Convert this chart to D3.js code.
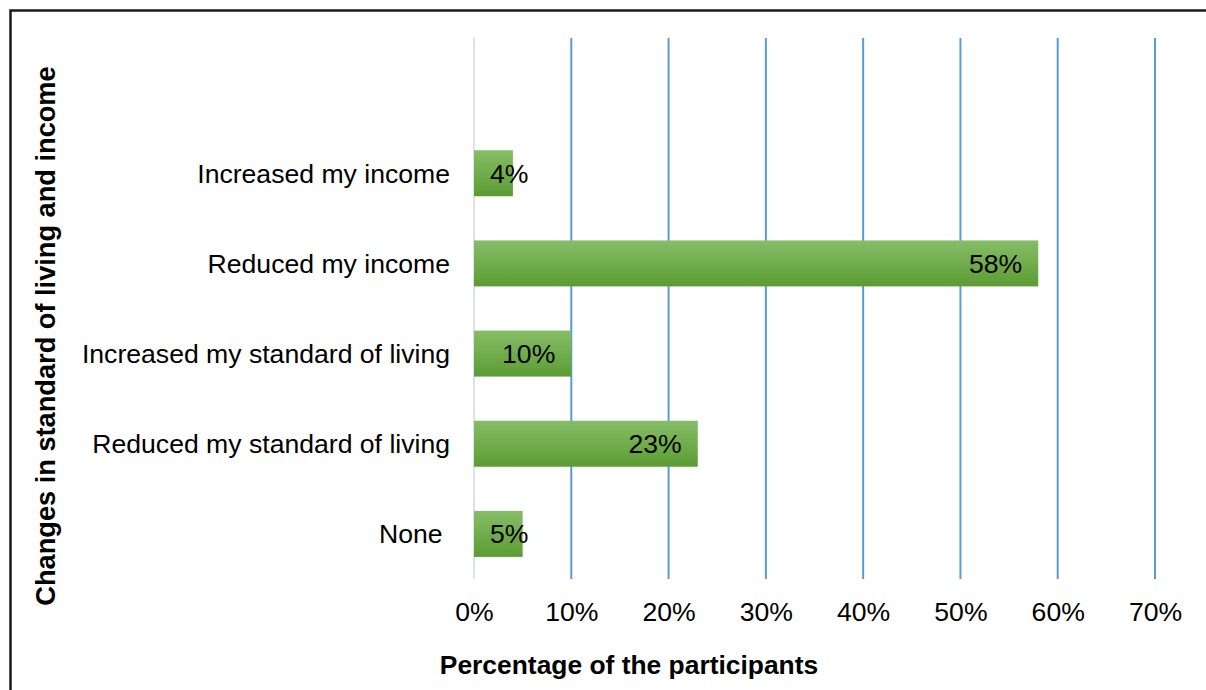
<!DOCTYPE html>
<html>
<head>
<meta charset="utf-8">
<script src="https://cdn.jsdelivr.net/npm/d3@7"></script>
<style>
  html, body { margin: 0; padding: 0; background: #ffffff; }
  svg { display: block; font-family: "Liberation Sans", Arial, sans-serif; }
</style>
</head>
<body>
<svg id="chart" width="1206" height="690"></svg>
<script>
// Survey responses: share of participants reporting each change
const categories = [
  "Increased my income",
  "Reduced my income",
  "Increased my standard of living",
  "Reduced my standard of living",
  "None\u00A0"
];
const percentages = [4, 58, 10, 23, 5];
const tickValues = [0, 10, 20, 30, 40, 50, 60, 70];
const xTitle = "Percentage of the participants";
const yTitle = "Changes in standard of living and income";

const svg = d3.select("#chart");
const W = 1206, H = 690;

// Outer frame (right and bottom edges fall outside the view)
svg.append("rect")
  .attr("x", 10.5).attr("y", 10.5)
  .attr("width", W + 20).attr("height", H + 20)
  .attr("fill", "#ffffff")
  .attr("stroke", "#1a1a1a")
  .attr("stroke-width", 2.5);

const plot = { left: 474, right: 1155, top: 38, bottom: 579 };

const x = d3.scaleLinear().domain([0, 70]).range([plot.left, plot.right]);

// One empty slot is reserved above the first category
const slot = (plot.bottom - plot.top) / (categories.length + 1);
const y = d3.scaleBand()
  .domain(categories)
  .range([plot.top + slot, plot.bottom])
  .paddingInner(0.49)
  .paddingOuter(0.245);

// Bar gradient
const defs = svg.append("defs");
const grad = defs.append("linearGradient")
  .attr("id", "barFill").attr("x1", 0).attr("y1", 0).attr("x2", 0).attr("y2", 1);
grad.append("stop").attr("offset", "0%").attr("stop-color", "#86bd66");
grad.append("stop").attr("offset", "100%").attr("stop-color", "#5c9c33");

// Vertical gridlines
const grid = svg.append("g");
grid.selectAll("line")
  .data(tickValues)
  .join("line")
  .attr("x1", d => x(d)).attr("x2", d => x(d))
  .attr("y1", plot.top).attr("y2", plot.bottom)
  .attr("stroke", d => d === 0 ? "#dce3ec" : "#5b9bd5")
  .attr("stroke-width", 2);

// Bars
const rows = categories.map((c, i) => ({ cat: c, val: percentages[i] }));
svg.append("g").selectAll("rect")
  .data(rows)
  .join("rect")
  .attr("x", x(0))
  .attr("y", d => y(d.cat))
  .attr("width", d => x(d.val) - x(0))
  .attr("height", y.bandwidth())
  .attr("fill", "url(#barFill)");

const fontSize = 26.6;

// Value labels, inside the end of each bar
const labels = svg.append("g").selectAll("text")
  .data(rows)
  .join("text")
  .attr("y", d => y(d.cat) + y.bandwidth() / 2)
  .attr("dy", "0.35em")
  .attr("text-anchor", "end")
  .attr("font-size", fontSize)
  .attr("fill", "#000000")
  .text(d => d.val + "%");
labels.each(function (d) {
  const w = this.getComputedTextLength();
  const endX = Math.max(x(d.val) - 16, x(0) + 16 + w);
  d3.select(this).attr("x", endX);
});

// Category axis labels
const yAxis = d3.axisLeft(y).tickSize(0).tickPadding(0);
const yAxisG = svg.append("g")
  .attr("transform", `translate(450,0)`)
  .call(yAxis);
yAxisG.select(".domain").remove();
yAxisG.selectAll("text")
  .attr("font-size", fontSize)
  .attr("font-family", "Liberation Sans, Arial, sans-serif")
  .attr("fill", "#000000")
  .attr("dy", "0.35em");

// Percentage axis labels
const xAxis = d3.axisBottom(x).tickValues(tickValues).tickFormat(d => d + "%").tickSize(0).tickPadding(0);
const xAxisG = svg.append("g")
  .attr("transform", `translate(0,621)`)
  .call(xAxis);
xAxisG.select(".domain").remove();
xAxisG.selectAll("text")
  .attr("font-size", fontSize)
  .attr("font-family", "Liberation Sans, Arial, sans-serif")
  .attr("fill", "#000000")
  .attr("dy", 0);

// Axis titles
svg.append("text")
  .attr("x", 629).attr("y", 674)
  .attr("text-anchor", "middle")
  .attr("font-size", 26.4)
  .attr("font-weight", "bold")
  .attr("fill", "#000000")
  .text(xTitle);

svg.append("text")
  .attr("transform", "translate(55,336) rotate(-90)")
  .attr("text-anchor", "middle")
  .attr("font-size", 27.2)
  .attr("font-weight", "bold")
  .attr("fill", "#000000")
  .text(yTitle);
</script>
</body>
</html>
